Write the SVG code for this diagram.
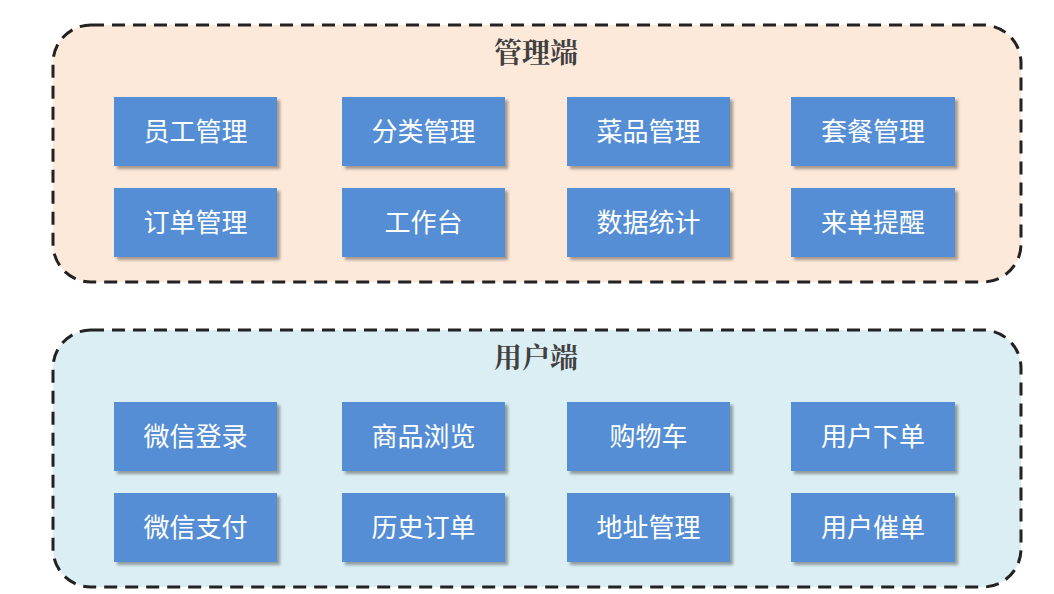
<svg xmlns="http://www.w3.org/2000/svg" width="1054" height="594" viewBox="0 0 1054 594">
<defs>
<filter id="sh" x="-10%" y="-10%" width="130%" height="140%">
<feDropShadow dx="3" dy="3" stdDeviation="1.5" flood-color="#000" flood-opacity="0.35"/>
</filter>
</defs>
<style>
.grp{stroke:#222;stroke-width:3;stroke-dasharray:13 8;}
.title{font-family:"Noto Serif CJK SC","Noto Sans CJK SC",serif;font-weight:bold;font-size:28px;fill:#404040;text-anchor:middle;}
.node rect{fill:#558ED5;filter:url(#sh);}
.node text{font-family:"Noto Sans CJK SC",sans-serif;font-size:26px;fill:#fff;text-anchor:middle;dominant-baseline:central;}
</style>
<rect width="1054" height="594" fill="#fff"/>
<g id="admin">
<rect class="grp" x="53" y="25" width="968" height="257" rx="38" fill="#FDE9D9"/>
<text class="title" x="536" y="63">管理端</text>
</g>
<g id="user">
<rect class="grp" x="53" y="330" width="968" height="257" rx="38" fill="#DAEEF3"/>
<text class="title" x="536" y="368">用户端</text>
</g>
<g id="n1" class="node"><rect x="114" y="97" width="163" height="69"/><text x="195.5" y="129.5">员工管理</text></g>
<g id="n2" class="node"><rect x="342" y="97" width="163" height="69"/><text x="423.5" y="129.5">分类管理</text></g>
<g id="n3" class="node"><rect x="567" y="97" width="163" height="69"/><text x="648.5" y="129.5">菜品管理</text></g>
<g id="n4" class="node"><rect x="791" y="97" width="164" height="69"/><text x="873" y="129.5">套餐管理</text></g>
<g id="n5" class="node"><rect x="114" y="188" width="163" height="69"/><text x="195.5" y="220.5">订单管理</text></g>
<g id="n6" class="node"><rect x="342" y="188" width="163" height="69"/><text x="423.5" y="220.5">工作台</text></g>
<g id="n7" class="node"><rect x="567" y="188" width="163" height="69"/><text x="648.5" y="220.5">数据统计</text></g>
<g id="n8" class="node"><rect x="791" y="188" width="164" height="69"/><text x="873" y="220.5">来单提醒</text></g>
<g id="m1" class="node"><rect x="114" y="402" width="163" height="69"/><text x="195.5" y="434.5">微信登录</text></g>
<g id="m2" class="node"><rect x="342" y="402" width="163" height="69"/><text x="423.5" y="434.5">商品浏览</text></g>
<g id="m3" class="node"><rect x="567" y="402" width="163" height="69"/><text x="648.5" y="434.5">购物车</text></g>
<g id="m4" class="node"><rect x="791" y="402" width="164" height="69"/><text x="873" y="434.5">用户下单</text></g>
<g id="m5" class="node"><rect x="114" y="493" width="163" height="69"/><text x="195.5" y="525.5">微信支付</text></g>
<g id="m6" class="node"><rect x="342" y="493" width="163" height="69"/><text x="423.5" y="525.5">历史订单</text></g>
<g id="m7" class="node"><rect x="567" y="493" width="163" height="69"/><text x="648.5" y="525.5">地址管理</text></g>
<g id="m8" class="node"><rect x="791" y="493" width="164" height="69"/><text x="873" y="525.5">用户催单</text></g>
<g id="connectors"></g>
</svg>
